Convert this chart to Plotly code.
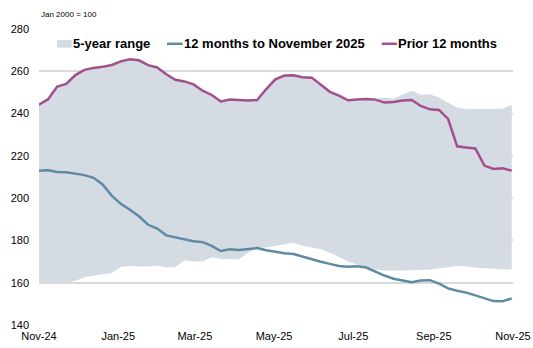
import pandas as pd
import plotly.graph_objects as go

# Weekly observations, index Jan 2000 = 100
dates = pd.date_range("2024-11-01", periods=53, freq="7D")

current_12m = [
    213.0, 213.2, 212.4, 212.2, 211.6, 210.9, 209.6, 206.5, 201.2, 197.3,
    194.5, 191.4, 187.4, 185.6, 182.4, 181.4, 180.4, 179.6, 179.2, 177.4,
    175.0, 175.8, 175.5, 176.1, 176.4, 175.4, 174.6, 173.9, 173.6, 172.3,
    171.3, 169.9, 168.9, 167.9, 167.6, 167.8, 167.2, 165.2, 163.4, 161.9,
    161.0, 160.2, 161.0, 161.2, 159.6, 157.3, 156.2, 155.3, 154.0, 152.7,
    151.3, 151.2, 152.6,
]

prior_12m = [
    244.2, 246.8, 252.8, 254.0, 258.2, 260.7, 261.6, 262.1, 263.0, 264.7,
    265.7, 265.2, 262.9, 261.8, 258.6, 256.0, 255.2, 253.8, 250.8, 248.8,
    245.7, 246.6, 246.4, 246.2, 246.4, 251.6, 256.2, 258.0, 258.1, 257.2,
    257.0, 253.8, 250.3, 248.5, 246.3, 246.7, 246.9, 246.6, 245.2, 245.5,
    246.2, 246.4, 243.6, 242.0, 241.7, 237.5, 224.5, 223.9, 223.5, 215.4,
    213.8, 214.1, 213.0,
]

range_high = [
    244.2, 246.8, 252.8, 254.0, 258.2, 260.7, 261.6, 262.1, 263.0, 264.7,
    265.7, 265.2, 262.9, 261.8, 258.6, 256.0, 255.2, 253.8, 250.8, 248.8,
    245.7, 246.6, 246.4, 246.2, 246.4, 251.6, 256.2, 258.0, 258.1, 257.2,
    257.0, 253.8, 250.3, 248.5, 246.3, 246.7, 246.9, 247.0, 247.6, 247.0,
    249.0, 250.8, 248.9, 249.1, 247.6, 245.3, 242.8, 242.0, 242.0, 242.0,
    242.0, 242.3, 244.2,
]

range_low = [
    160.4, 160.4, 160.2, 160.1, 160.8, 162.6, 163.4, 163.9, 164.5, 167.5,
    167.9, 167.7, 167.7, 168.2, 167.2, 167.4, 170.5, 170.0, 170.0, 172.0,
    171.2, 171.1, 171.1, 174.2, 176.5, 176.6, 177.3, 178.0, 178.9, 177.5,
    176.5, 175.8, 174.2, 172.2, 170.0, 168.6, 167.2, 166.3, 165.8, 165.7,
    165.7, 165.9, 166.0, 166.3, 166.7, 167.3, 167.9, 167.7, 167.1, 166.7,
    166.6, 166.3, 166.2,
]

tick_dates = ["2024-11-01", "2025-01-01", "2025-03-01", "2025-05-01",
              "2025-07-01", "2025-09-01", "2025-11-01"]
tick_labels = ["Nov-24", "Jan-25", "Mar-25", "May-25", "Jul-25", "Sep-25", "Nov-25"]
y_ticks = [140, 160, 180, 200, 220, 240, 260, 280]

FILL = "#d5dbe3"
BLUE = "#5e8ba4"
PURPLE = "#a24f8e"
FONT = "Liberation Sans, Arial, sans-serif"

fig = go.Figure()

fig.add_trace(go.Scatter(
    x=dates, y=range_low, mode="lines", line=dict(width=0, color=FILL),
    showlegend=False, hoverinfo="skip",
))
fig.add_trace(go.Scatter(
    x=dates, y=range_high, mode="lines", line=dict(width=0, color=FILL),
    fill="tonexty", fillcolor=FILL, name="5-year range",
))
fig.add_trace(go.Scatter(
    x=dates, y=current_12m, mode="lines", line=dict(width=2.5, color=BLUE),
    name="12 months to November 2025",
))
fig.add_trace(go.Scatter(
    x=dates, y=prior_12m, mode="lines", line=dict(width=2.5, color=PURPLE),
    name="Prior 12 months",
))

# Key row across the top of the plot: (swatch kind, colour, swatch x0, x1, text x, label)
# x values are fractions of the plot-area width.
key_y = 0.950
key_items = [
    ("rect", FILL, 0.038, 0.069, 0.069, "5-year range"),
    ("line", BLUE, 0.270, 0.303, 0.303, "12 months to November 2025"),
    ("line", PURPLE, 0.723, 0.755, 0.755, "Prior 12 months"),
]
shapes = []
annotations = [dict(
    text="Jan 2000 = 100", xref="paper", yref="paper",
    x=0, y=1, xanchor="left", yanchor="bottom", yshift=8,
    showarrow=False, font=dict(size=8, family=FONT),
)]
for kind, color, x0, x1, xt, label in key_items:
    if kind == "rect":
        shapes.append(dict(type="rect", xref="paper", yref="paper",
                           x0=x0, x1=x1, y0=key_y - 0.013, y1=key_y + 0.013,
                           fillcolor=color, line=dict(width=0)))
    else:
        shapes.append(dict(type="line", xref="paper", yref="paper",
                           x0=x0, x1=x1, y0=key_y, y1=key_y,
                           line=dict(color=color, width=2.5)))
    annotations.append(dict(
        text=f"<b>{label}</b>", xref="paper", yref="paper",
        x=xt, y=key_y, xanchor="left", yanchor="middle", xshift=-1,
        showarrow=False, font=dict(size=13, family=FONT),
    ))

fig.update_layout(
    width=533, height=348,
    margin=dict(l=39, r=20, t=29, b=23),
    paper_bgcolor="white", plot_bgcolor="white",
    font=dict(family=FONT, size=11, color="#000000"),
    showlegend=False,
    shapes=shapes,
    annotations=annotations,
)

fig.update_xaxes(
    type="date", range=["2024-11-01", "2025-11-01"],
    tickvals=tick_dates, ticktext=tick_labels,
    showgrid=False, zeroline=False, showline=False, ticks="",
    tickfont=dict(size=11), ticklabelstandoff=3, automargin=False,
)
fig.update_yaxes(
    range=[140, 280], tickvals=y_ticks,
    showgrid=True, gridcolor="#d9d9d9", gridwidth=1.5,
    zeroline=False, showline=False, ticks="",
    tickfont=dict(size=11), ticklabelstandoff=9, automargin=False,
)

fig.write_html("out.html")
